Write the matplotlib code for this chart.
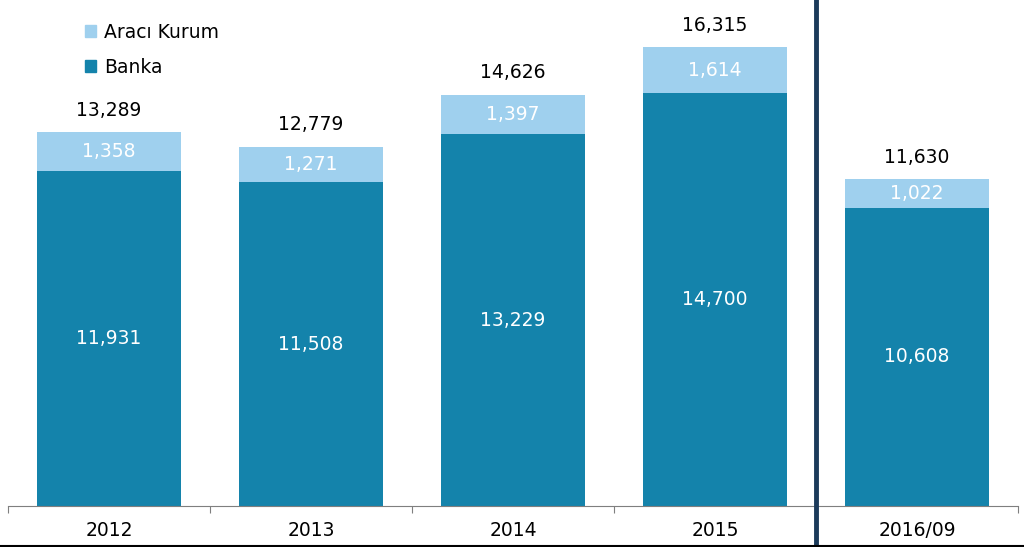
import matplotlib.pyplot as plt
import matplotlib.transforms as mtransforms
from matplotlib.patches import Patch
from matplotlib.lines import Line2D
import numpy as np

# data
categories = ['2012', '2013', '2014', '2015', '2016/09']
banka = [11931, 11508, 13229, 14700, 10608]
araci_kurum = [1358, 1271, 1397, 1614, 1022]
totals = [13289, 12779, 14626, 16315, 11630]

banka_color = '#1483ab'
araci_color = '#9fd0ee'
divider_color = '#1b3a5a'

fig = plt.figure(figsize=(10.24, 5.47), dpi=100)
ax = fig.add_axes([8 / 1024, 41 / 547, 1010 / 1024, 506 / 547])

x = np.arange(len(categories))
width = 0.71
ax.bar(x, banka, width, color=banka_color, zorder=2)
ax.bar(x, araci_kurum, width, bottom=banka, color=araci_color, zorder=2)

# value labels
for i in range(len(categories)):
    ax.text(x[i], banka[i] / 2, f'{banka[i]:,}', ha='center', va='center',
            color='white', fontsize=13.5)
    ax.text(x[i], banka[i] + araci_kurum[i] / 2, f'{araci_kurum[i]:,}',
            ha='center', va='center', color='white', fontsize=13.5)
    ax.text(x[i], totals[i] + 780, f'{totals[i]:,}', ha='center', va='center',
            color='black', fontsize=13.5)

ax.set_xlim(-0.5, len(categories) - 0.5)
ax.set_ylim(0, 18000)

# axis styling
for side in ['top', 'right', 'left']:
    ax.spines[side].set_visible(False)
ax.spines['bottom'].set_color('#7f7f7f')
ax.set_yticks([])
ax.set_xticks(np.arange(-0.5, len(categories)))
ax.set_xticklabels([])
ax.tick_params(axis='x', which='major', length=5, color='#7f7f7f')
ax.set_xticks(x, minor=True)
ax.set_xticklabels(categories, minor=True, fontsize=13.5)
ax.tick_params(axis='x', which='minor', length=0, pad=11)

# dark divider between 2015 and 2016/09
trans = mtransforms.blended_transform_factory(ax.transData, fig.transFigure)
fig.add_artist(Line2D([3.5, 3.5], [0, 1], transform=trans,
                      color=divider_color, linewidth=3.5))

# bottom edge line
fig.add_artist(Line2D([0, 1], [0.001, 0.001], transform=fig.transFigure,
                      color='black', linewidth=1.5))

handles = [Patch(color=araci_color, label='Aracı Kurum'),
           Patch(color=banka_color, label='Banka')]
fig.legend(handles=handles, loc='upper left', bbox_to_anchor=(68 / 1024, 1 - 6 / 547),
           frameon=False, fontsize=13.5, handlelength=0.6, handleheight=0.6,
           handletextpad=0.4, labelspacing=0.85)

plt.savefig('out.png', dpi=100)
